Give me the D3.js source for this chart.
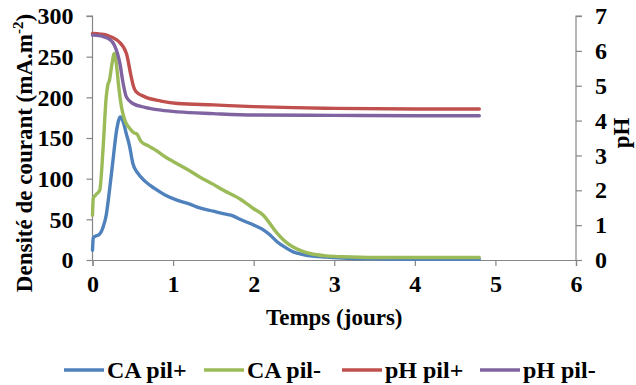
<!DOCTYPE html>
<html><head><meta charset="utf-8">
<script src="https://cdn.jsdelivr.net/npm/d3@7"></script>
<style>
html,body{margin:0;padding:0;background:#fff;}
svg text{font-family:"Liberation Serif","Times New Roman",Times,"Nimbus Roman","DejaVu Serif",serif !important;font-weight:bold;fill:#000;}
</style></head>
<body><svg id="c" width="636" height="385"></svg>
<script>
const xTicks = [0,1,2,3,4,5,6];
const yTicks = [0,50,100,150,200,250,300];
const phTicks = [0,1,2,3,4,5,6,7];

const caPlusT = [0,0.01,0.03,0.08,0.13,0.17,0.21,0.25,0.30,0.345,0.38,0.42,0.46,0.50,0.56,0.65,0.77,0.9,1.04,1.2,1.33,1.5,1.62,1.75,1.83,2.0,2.12,2.2,2.29,2.4,2.49,2.6,2.7,2.9,3.1,3.5,4.0,4.5,4.8];
const caPlusV = [12,27,29,31,40,55,85,119,160,176,170,155,140,119,107,97,88,80,74,69,64,60,57,54,50,43,37,31,22.5,15,10,7,5,3.5,2.5,1.5,1,1,1];

const caMinusT = [0,0.01,0.04,0.09,0.13,0.17,0.19,0.21,0.24,0.27,0.30,0.32,0.36,0.40,0.46,0.52,0.55,0.6,0.7,0.8,0.9,1.04,1.2,1.33,1.5,1.62,1.83,2.0,2.12,2.2,2.29,2.4,2.49,2.6,2.7,2.9,3.1,3.5,4.0,4.5,4.8];
const caMinusV = [55,76,80,86,135,200,215,221,240,254,238,218,188,172,162,156,155,146,140,134,127,119,110,102,93,86,75,63,55,45,33,22,16,11,8,5,4,3,3,3,3];

const phPlusT = [0,0.1,0.19,0.25,0.32,0.42,0.48,0.51,0.54,0.65,0.85,1.06,1.5,2.0,2.5,3.0,4.0,4.8];
const phPlusV = [6.50,6.48,6.44,6.38,6.28,5.93,5.26,4.97,4.83,4.68,4.56,4.49,4.45,4.40,4.37,4.35,4.33,4.33];

const phMinusT = [0,0.02,0.19,0.27,0.34,0.38,0.42,0.5,0.65,0.85,1.06,1.5,2.0,3.0,4.0,4.8];
const phMinusV = [6.45,6.45,6.36,6.17,5.64,5.07,4.68,4.49,4.38,4.30,4.25,4.20,4.16,4.15,4.14,4.14];

const series = [
  {name:"CA pil+", t:caPlusT, v:caPlusV, axis:"left", color:"#4F81BD"},
  {name:"CA pil-", t:caMinusT, v:caMinusV, axis:"left", color:"#9BBB59"},
  {name:"pH pil+", t:phPlusT, v:phPlusV, axis:"right", color:"#C0504D"},
  {name:"pH pil-", t:phMinusT, v:phMinusV, axis:"right", color:"#8064A2"}
];

const svg = d3.select("#c");
const L=92.5, R=576, T=16, B=260;
const x = d3.scaleLinear().domain([0,6]).range([L,R]);
const y = d3.scaleLinear().domain([0,300]).range([B,T]);
const yp = d3.scaleLinear().domain([0,7]).range([B,T]);
const axisColor = "#868686";
const fmt = d3.format("d");

const gx = svg.append("g").attr("transform",`translate(0,${B})`)
  .call(d3.axisBottom(x).tickValues(xTicks).tickSize(6).tickPadding(9).tickFormat(fmt));
const gy = svg.append("g").attr("transform",`translate(${L},0)`)
  .call(d3.axisLeft(y).tickValues(yTicks).tickSize(6).tickPadding(13).tickFormat(fmt));
const gr = svg.append("g").attr("transform",`translate(${R},0)`)
  .call(d3.axisRight(yp).tickValues(phTicks).tickSize(6).tickPadding(13).tickFormat(fmt));
[gx,gy,gr].forEach(g=>{
  g.attr("font-family",null).attr("font-size",null);
  g.select(".domain").attr("stroke",axisColor).attr("stroke-width",1.2);
  g.selectAll(".tick line").attr("stroke",axisColor).attr("stroke-width",1.2);
  g.selectAll(".tick text").style("font-size","24px").attr("fill","#000");
});
gy.select(".domain").attr("d",`M-6,${T}H0V${B}`);
gr.select(".domain").attr("d",`M6,${T}H0V${B}`);

const lines = svg.append("g");
series.forEach(s=>{
  const ys = s.axis==="left"? y : yp;
  const pts = s.t.map((t,i)=>[t,s.v[i]]);
  lines.append("path").datum(pts)
    .attr("fill","none").attr("stroke",s.color).attr("stroke-width",3.4)
    .attr("stroke-linejoin","round").attr("stroke-linecap","round")
    .attr("d", d3.line().x(d=>x(d[0])).y(d=>ys(d[1])).curve(d3.curveMonotoneX));
});

svg.append("text").attr("x",(L+R)/2).attr("y",325).attr("text-anchor","middle")
  .style("font-size","23px").text("Temps (jours)");
const lt = svg.append("text").attr("transform",`translate(32,153) rotate(-90)`)
  .attr("text-anchor","middle").style("font-size","23px");
lt.append("tspan").text("Densité de courant (mA.m");
lt.append("tspan").attr("dy",-9).style("font-size","15px").text("-2");
lt.append("tspan").attr("dy",9).text(")");
svg.append("text").attr("transform",`translate(629,133) rotate(-90)`)
  .attr("text-anchor","middle").style("font-size","23px").text("pH");

const legX = [64, 204, 342, 480];
series.forEach((s,i)=>{
  const g = svg.append("g").attr("transform",`translate(${legX[i]},370)`);
  g.append("line").attr("x1",0).attr("x2",40).attr("y1",0).attr("y2",0)
    .attr("stroke",s.color).attr("stroke-width",3.4);
  g.append("text").attr("x",43).attr("y",8).style("font-size","24px").text(s.name);
});
</script></body></html>
